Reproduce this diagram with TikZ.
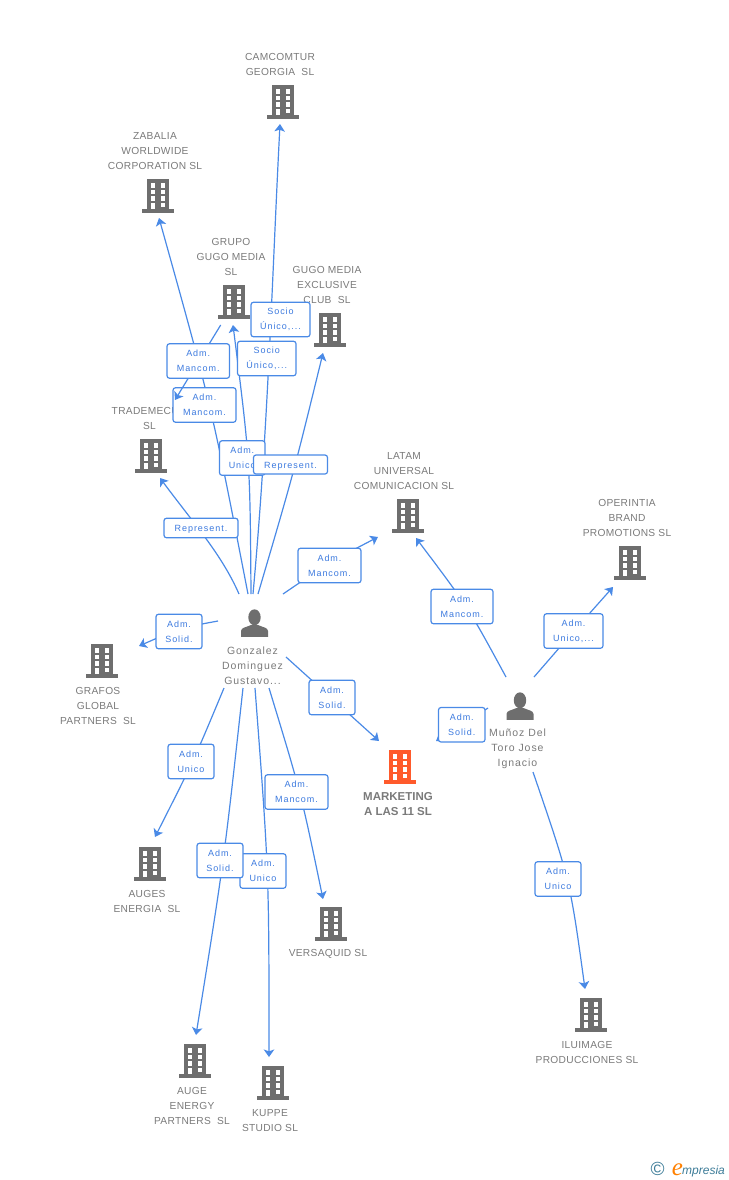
\documentclass[tikz,border=0pt]{standalone}
\usepackage{fontspec}
\setmainfont{Liberation Sans}
\newfontfamily\nmfont[LetterSpace=3]{Liberation Sans}
\newfontfamily\pfont[LetterSpace=9]{Liberation Sans}
\newfontfamily\lfont[LetterSpace=11]{Liberation Sans}
\newfontfamily\logofont{Liberation Serif}
\usetikzlibrary{arrows.meta,backgrounds}
\definecolor{linkblue}{HTML}{4A8AE6}
\definecolor{txtblue}{HTML}{3C7ADF}
\definecolor{icon}{HTML}{6E6E6E}
\definecolor{nametxt}{HTML}{7A7A7A}
\definecolor{hot}{HTML}{FF5A2B}
\definecolor{teal}{HTML}{3D7C98}
\newcommand{\drawbldg}[1]{%
  \begin{scope}[shift={(path picture bounding box.center)}]
    \fill[#1] (-11,-16.7) rectangle (11,14);
    \fill[#1] (-15.7,13.4) rectangle (15.7,16.7);
    \foreach \yy/\hh in {-13/4.7,-6.3/4.6,0.3/4.7}{
      \fill[white] (-7.3,\yy) rectangle ++(4.6,\hh);
      \fill[white] (2.5,\yy) rectangle ++(4.8,\hh);
    }
    \fill[white] (2.5,6.7) rectangle ++(4.8,4.3);
    \fill[white] (-7.3,6.7) rectangle (-2.7,13.4);
  \end{scope}}
\tikzset{
  bldg/.style={rectangle,inner sep=0pt,minimum width=32pt,minimum height=34pt,
    path picture={\drawbldg{#1}}},
  bldg/.default=icon,
  person/.style={rectangle,inner sep=0pt,minimum width=28pt,minimum height=28pt,
    path picture={\begin{scope}[shift={(path picture bounding box.center)}]
      \fill[icon] (0,-5.7) ellipse (6.2 and 8);
      \fill[icon] (-13.5,13.8) -- (-13.5,8) .. controls (-13.5,4.5) and (-8,4.2) .. (-4,2.2)
        -- (4,2.2) .. controls (8,4.2) and (13.5,4.5) .. (13.5,8) -- (13.5,13.8) -- cycle;
    \end{scope}}},
  nm/.style={align=center,font=\nmfont\fontsize{10.2}{15}\selectfont,text=nametxt,inner sep=0pt,yshift=-1pt},
  pnm/.style={align=center,font=\pfont\fontsize{10.5}{15}\selectfont,text=nametxt,inner sep=0pt,yshift=-1pt},
  mainnm/.style={align=center,font=\fontsize{11.5}{15}\selectfont\bfseries,text=nametxt,inner sep=0pt,yshift=-1pt},
  lbl/.style={draw=linkblue,line width=1.2pt,rounded corners=2.5pt,fill=white,
    align=center,inner sep=0pt,text=txtblue,font=\lfont\fontsize{9}{15}\selectfont,
    minimum width=#1,minimum height=34.5pt,
    execute at begin node={\rule{0pt}{9.5pt}}},
  lbl/.default=46pt,
  conn/.style={draw=linkblue,line width=1.2pt,
    -{Stealth[length=7.5pt,width=10.5pt,inset=1.8pt]}},
}
\begin{document}
\begin{tikzpicture}[x=1pt,y=-1pt]
\useasboundingbox (0,0) rectangle (728,1180);
% buildings
\node[bldg] (cam) at (283,102) {};
\node[bldg] (zab) at (158,196) {};
\node[bldg] (gru) at (234,302) {};
\node[bldg] (gem) at (330,330) {};
\node[bldg] (tra) at (151,456) {};
\node[bldg] (lat) at (408,516) {};
\node[bldg] (ope) at (630,563) {};
\node[bldg] (gra) at (102,661) {};
\node[bldg=hot] (mar) at (400,767) {};
\node[bldg] (aug) at (150,864) {};
\node[bldg] (ver) at (331,924) {};
\node[bldg] (aue) at (195,1061) {};
\node[bldg] (kup) at (273,1083) {};
\node[bldg] (ilu) at (591,1015) {};
% persons
\node[person] (gon) at (254.5,623) {};
\node[person] (mun) at (520,706) {};
% names
\node[nm] (camt) at (280,63.5) {CAMCOMTUR\\GEORGIA\ \ SL};
\node[nm] (zabt) at (155,150) {ZABALIA\\WORLDWIDE\\CORPORATION SL};
\node[nm] (grut) at (231,256) {GRUPO\\GUGO MEDIA\\SL};
\node[nm] (gemt) at (327,284) {GUGO MEDIA\\EXCLUSIVE\\CLUB\ \ SL};
\node[nm] (trat) at (149.5,417.5) {TRADEMECU\phantom{M}\\SL};
\node[nm] (latt) at (404,470) {LATAM\\UNIVERSAL\\COMUNICACION SL};
\node[nm] (opet) at (627,517) {OPERINTIA\\BRAND\\PROMOTIONS SL};
\node[nm] (grat) at (98,705) {GRAFOS\\GLOBAL\\PARTNERS\ \ SL};
\node[mainnm] (mart) at (398,803.5) {MARKETING\\A LAS 11 SL};
\node[nm] (augt) at (147,900.5) {AUGES\\ENERGIA\ \ SL};
\node[nm] (vert) at (328,953) {VERSAQUID SL};
\node[nm] (auet) at (192,1105) {AUGE\\ENERGY\\PARTNERS\ \ SL};
\node[nm] (kupt) at (270,1119.5) {KUPPE\\STUDIO SL};
\node[nm] (ilut) at (587,1051.5) {ILUIMAGE\\PRODUCCIONES SL};
\node[pnm] (gont) at (252.5,665) {Gonzalez\\Dominguez\\Gustavo...};
\node[pnm] (munt) at (517.5,748) {Muñoz Del\\Toro Jose\\Ignacio};
% connectors under everything
\begin{scope}[on background layer]
\draw[conn] ([shift={(-1.5,-29)}]gon.center) .. controls (268,430) and (272,280) .. ([shift={(-3,22)}]cam.center);
\draw[conn] ([shift={(-3.5,-29)}]gon.center) .. controls (250,460) .. ([shift={(-1,23)}]gru.center);
\draw[conn] ([shift={(-6.5,-29)}]gon.center) .. controls (211.5,406) .. ([shift={(1,22)}]zab.center);
\draw[conn] ([shift={(3.5,-29)}]gon.center) .. controls (293.5,473.5) .. ([shift={(-7,23)}]gem.center);
\draw[conn] ([shift={(-15.5,-29)}]gon.center) .. controls (222,555) and (195,525) .. ([shift={(9,22)}]tra.center);
\draw[conn] ([shift={(28.5,-29)}]gon.center) .. controls (330,562) .. ([shift={(-30,21)}]lat.center);
\draw[conn] ([shift={(-36.5,-2)}]gon.center) .. controls (180,628) .. ([shift={(37,-15)}]gra.center);
\draw[conn] ([shift={(31.5,34)}]gon.center) .. controls (332.5,699) .. ([shift={(-21,-26)}]mar.center);
\draw[conn] ([shift={(-30.5,65)}]gon.center) .. controls (194,760) .. ([shift={(5,-27)}]aug.center);
\draw[conn] ([shift={(-11.5,65)}]gon.center) .. controls (224,861) .. ([shift={(1,-26)}]aue.center);
\draw[conn] ([shift={(0.5,65)}]gon.center) .. controls (269,872) .. ([shift={(-4,-26)}]kup.center);
\draw[conn] ([shift={(14.5,65)}]gon.center) .. controls (301,793) .. ([shift={(-8,-25)}]ver.center);
\draw[conn] ([shift={(-14,-29)}]mun.center) .. controls (468,607) .. ([shift={(8,22)}]lat.center);
\draw[conn] ([shift={(14,-29)}]mun.center) .. controls (573,632) .. ([shift={(-17,24)}]ope.center);
\draw[conn] ([shift={(-32,2)}]mun.center) -- ([shift={(36,-26)}]mar.center);
\draw[conn] ([shift={(13,66)}]mun.center) .. controls (570,880) .. ([shift={(-6,-26)}]ilu.center);
\end{scope}
% labels
\node[lbl=59pt] (l1) at (280.5,319.5) {Socio\\Único,...};
\node[lbl=58.5pt] (l2) at (266.75,358.5) {Socio\\Único,...};
\node[lbl=63pt] (l4) at (204.5,405) {Adm.\\Mancom.};
\draw[conn] ([shift={(-13.3,23)}]gru.center) -- ([shift={(24,-56)}]tra.center);
\node[lbl=62.5pt] (l3) at (198.25,361) {Adm.\\Mancom.};
\node[lbl=45.5pt] (l5) at (242.25,458) {Adm.\\Unico};
\node[lbl=74pt,minimum height=19pt] (l6) at (290.5,464.5) {Represent.};
\node[lbl=74pt,minimum height=19.5pt] (l7) at (201,528) {Represent.};
\node[lbl=63pt] (l8) at (329.5,565.5) {Adm.\\Mancom.};
\node[lbl] (l9) at (179,631.5) {Adm.\\Solid.};
\node[lbl] (l10) at (332,697.5) {Adm.\\Solid.};
\node[lbl] (l11) at (191,761.5) {Adm.\\Unico};
\node[lbl=63pt] (l12) at (296.5,792) {Adm.\\Mancom.};
\node[lbl] (l14) at (263,871) {Adm.\\Unico};
\node[lbl] (l13) at (220,860.5) {Adm.\\Solid.};
\node[lbl=62pt] (l15) at (462,606.5) {Adm.\\Mancom.};
\node[lbl=59pt] (l16) at (573.5,631) {Adm.\\Unico,...};
\node[lbl=46.5pt] (l17) at (461.75,724.75) {Adm.\\Solid.};
\node[lbl] (l18) at (558,879) {Adm.\\Unico};
% logo
\node[inner sep=0pt,text=teal,font=\fontsize{19}{19}\selectfont] (copy) at (657.5,1169) {©};
\node[inner sep=0pt,text=orange,font=\logofont\itshape\fontsize{25}{25}\selectfont] (loge) at (677.5,1170) {e};
\node[inner sep=0pt,text=teal,anchor=west,font=\itshape\fontsize{12}{12}\selectfont] (logt) at (682,1171) {mpresia};
\end{tikzpicture}
\end{document}
